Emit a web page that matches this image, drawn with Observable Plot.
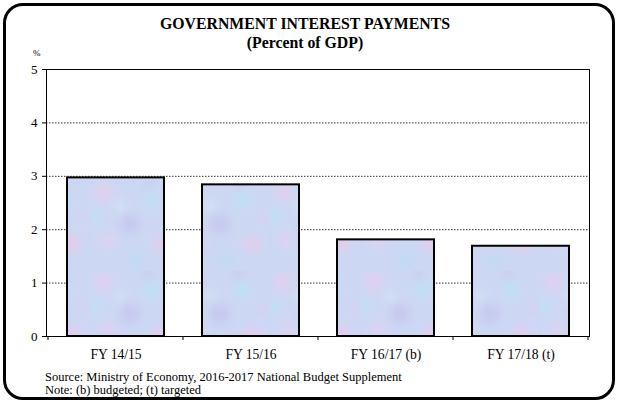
<!DOCTYPE html>
<html>
<head>
<meta charset="utf-8">
<script src="https://cdn.jsdelivr.net/npm/d3@7"></script>
<script src="https://cdn.jsdelivr.net/npm/@observablehq/plot@0.6"></script>
<style>
  html, body { margin: 0; padding: 0; background: #fff; }
  #wrap { position: relative; width: 618px; height: 403px; overflow: hidden; font-family: "Liberation Serif", "Times New Roman", serif; }
  #border { position: absolute; left: 3px; top: 3px; width: 612px; height: 397px; box-sizing: border-box; border: 3.5px solid #000; border-radius: 20px; }
  .t { position: absolute; white-space: nowrap; color: #000; }
  #title { left: 0; width: 610px; text-align: center; top: 16px; font-size: 15.8px; line-height: 15px; font-weight: bold; }
  #subtitle { left: 0; width: 610px; text-align: center; top: 34.5px; font-size: 15.8px; line-height: 15px; font-weight: bold; }
  #unit { left: 33px; top: 49px; font-size: 9px; line-height: 9px; }
  #source { left: 45px; top: 371px; font-size: 12.5px; line-height: 12px; }
  #note { left: 45px; top: 383.5px; font-size: 12.5px; line-height: 12px; }
  #chart { position: absolute; left: 0; top: 0; }
</style>
</head>
<body>
<div id="wrap">
  <div id="chart"></div>
  <div id="border"></div>
  <div class="t" id="title">GOVERNMENT INTEREST PAYMENTS</div>
  <div class="t" id="subtitle">(Percent of GDP)</div>
  <div class="t" id="unit">%</div>
  <div class="t" id="source">Source: Ministry of Economy, 2016-2017 National Budget Supplement</div>
  <div class="t" id="note">Note: (b) budgeted; (t) targeted</div>
</div>
<script>
const categories = ["FY 14/15", "FY 15/16", "FY 16/17 (b)", "FY 17/18 (t)"];
const values = [2.97, 2.84, 1.81, 1.69];
const yTicks = [0, 1, 2, 3, 4, 5];
const gridValues = [1, 2, 3, 4];

const data = categories.map((c, i) => ({cat: c, val: values[i]}));

const plot = Plot.plot({
  width: 618,
  height: 403,
  marginLeft: 46,
  marginRight: 29,
  marginTop: 69,
  marginBottom: 67,
  style: {fontFamily: "'Liberation Serif', 'Times New Roman', serif", fontSize: "13.6px", background: "transparent", color: "#000"},
  x: {domain: categories, paddingInner: 0.283, paddingOuter: 0.1415, label: null, tickSize: 0, tickPadding: 13},
  y: {domain: [0, 5], ticks: yTicks, tickFormat: d3.format("d"), tickSize: 4, tickPadding: 5, label: null},
  marks: [
    Plot.ruleY(gridValues, {stroke: "#333", strokeWidth: 1, strokeDasharray: "1.5,1.5"}),
    Plot.barY(data, {x: "cat", y: "val", fill: "url(#tex)", stroke: "#000", strokeWidth: 2}),
    Plot.frame({stroke: "#000", strokeWidth: 1})
  ]
});

const svg = d3.select(plot);
// texture pattern for bars
const defs = svg.insert("defs", ":first-child");
const filt = defs.append("filter").attr("id", "blur").attr("x", "-50%").attr("y", "-50%").attr("width", "200%").attr("height", "200%");
filt.append("feGaussianBlur").attr("stdDeviation", 4);
const pat = defs.append("pattern").attr("id", "tex").attr("patternUnits", "userSpaceOnUse")
  .attr("width", 90).attr("height", 90);
pat.append("rect").attr("width", 90).attr("height", 90).attr("fill", "#ccd7f3");
const blobs = pat.append("g").attr("filter", "url(#blur)").attr("opacity", 0.8);
[
  [14, 12, 9, "#e6cdee"], [62, 20, 8, "#bde0f6"], [40, 44, 10, "#c4c6ee"],
  [18, 60, 8, "#e2d0f1"], [72, 64, 9, "#e6cbec"], [46, 80, 7, "#bcdaf4"],
  [84, 38, 6, "#d6d0f2"], [4, 36, 7, "#bee1f6"], [30, 26, 5, "#d8e6f8"], [58, 4, 5, "#c7c9ef"]
].forEach(([cx, cy, r, c]) => blobs.append("circle").attr("cx", cx).attr("cy", cy).attr("r", r).attr("fill", c));

// y tick label size
svg.selectAll('[aria-label^="y-axis"] text').attr("font-size", 13);

// category boundary ticks on x axis
const xs = plot.scale("x");
const ys = plot.scale("y");
const step = xs.step !== undefined ? xs.step : xs.bandwidth / (1 - 0.283);
const starts = categories.map(c => xs.apply(c));
const bw = xs.bandwidth;
const bounds = [];
bounds.push(starts[0] - (step - bw) / 2);
for (let i = 1; i < categories.length; i++) bounds.push((starts[i - 1] + bw + starts[i]) / 2);
bounds.push(starts[categories.length - 1] + bw + (step - bw) / 2);
const y0 = ys.apply(0);
const tg = svg.append("g").attr("stroke", "#000").attr("stroke-width", 1);
bounds.forEach(b => tg.append("line").attr("x1", b).attr("x2", b).attr("y1", y0).attr("y2", y0 + 4));

document.getElementById("chart").appendChild(plot);
</script>
</body>
</html>
